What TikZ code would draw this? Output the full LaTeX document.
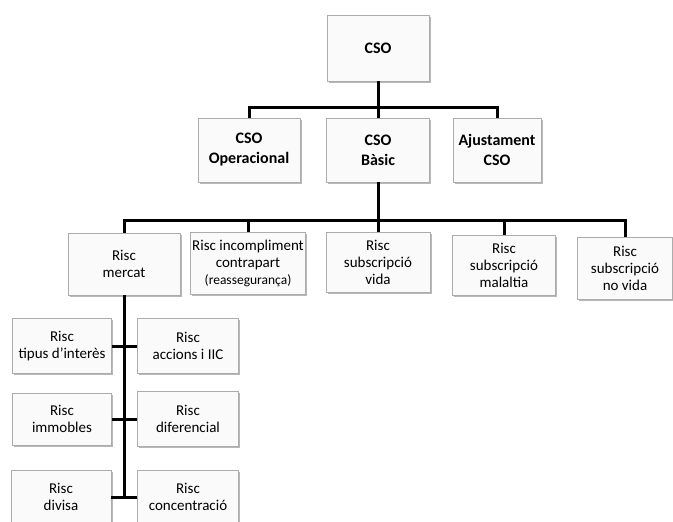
\documentclass[tikz,border=0pt]{standalone}
\usepackage{fontspec}
\setmainfont{Carlito}
\usetikzlibrary{shadows}

\begin{document}
\begin{tikzpicture}[x=1pt,y=-1pt,
  box/.style={draw=gray!65,fill=gray!4,align=center,inner sep=0pt,
    drop shadow={shadow xshift=1.5pt,shadow yshift=-1.8pt,fill=gray!70,opacity=.8},
    font=\fontsize{15}{17}\selectfont},
  mainbox/.style={box,font=\fontsize{16}{20}\bfseries\selectfont},
  link/.style={line width=3pt}]
\useasboundingbox (0,0) rectangle (673,522);
\node[mainbox,minimum width=102,minimum height=66] (cso) at (378,48) {CSO};
\node[mainbox,minimum width=102,minimum height=64] (oper) at (249,150) {CSO\\Operacional};
\node[mainbox,minimum width=103,minimum height=64] (basic) at (378,150) {CSO\\Bàsic};
\node[mainbox,minimum width=88,minimum height=64] (ajust) at (497,150) {Ajustament\\CSO};
\node[box,minimum width=112,minimum height=62] (mercat) at (124,264) {Risc\\mercat};
\node[box,minimum width=115,minimum height=62] (incomp) at (248,263) {Risc incompliment\\contrapart\\{\fontsize{13.5}{15}\selectfont(reassegurança)}};
\node[box,minimum width=104,minimum height=60] (vida) at (378,262) {Risc\\subscripció\\vida};
\node[box,minimum width=103,minimum height=60] (malaltia) at (504,265) {Risc\\subscripció\\malaltia};
\node[box,minimum width=95,minimum height=62] (novida) at (625,268) {Risc\\subscripció\\no vida};
\node[box,minimum width=99,minimum height=55] (tipus) at (62,346) {Risc\\tipus d'interès};
\node[box,minimum width=101,minimum height=55] (accions) at (188,346) {Risc\\accions i IIC};
\node[box,minimum width=99,minimum height=52] (immobles) at (62,419) {Risc\\immobles};
\node[box,minimum width=101,minimum height=55] (diferencial) at (188,419) {Risc\\diferencial};
\node[box,minimum width=100,minimum height=54] (divisa) at (61,497) {Risc\\divisa};
\node[box,minimum width=101,minimum height=54] (concentracio) at (188,497) {Risc\\concentració};
\coordinate (bus1) at (378,107);
\coordinate (bus2) at (378,220);
\draw[link] (cso) -- (basic);
\draw[link] (oper.north) |- (bus1) -| (ajust.north);
\draw[link] (basic) -- (vida);
\draw[link] (mercat.north) |- (bus2) -| (novida.north);
\draw[link] (incomp.north) -- (incomp.north |- bus2);
\draw[link] (malaltia.north) -- (malaltia.north |- bus2);
\draw[link] (mercat.south) -- (mercat.south |- divisa.east);
\draw[link] (tipus) -- (accions);
\draw[link] (immobles) -- (diferencial);
\draw[link] (divisa) -- (concentracio);
\end{tikzpicture}
\end{document}
